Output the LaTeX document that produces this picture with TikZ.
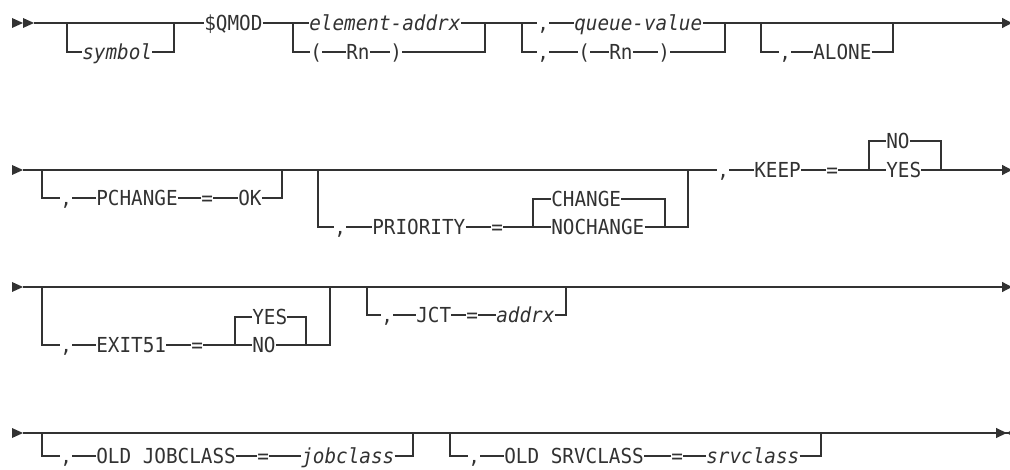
\documentclass[tikz,border=0pt]{standalone}
\usepackage{fontspec}
\newfontfamily\railfont[FakeStretch=0.935]{DejaVu Sans Mono}
\definecolor{railgray}{RGB}{50,50,50}
\usetikzlibrary{arrows.meta}

\begin{document}
\begin{tikzpicture}[x=0.75pt, y=-0.75pt,
    rail/.style={draw=railgray, line width=0.95pt},
    kw/.style={inner sep=0pt, anchor=west, text height=11.3pt, text depth=0pt, text=railgray,
      font=\railfont\fontsize{15.5}{18}\selectfont},
    var/.style={kw, font=\railfont\itshape\fontsize{15.5}{18}\selectfont},
    endtip/.style={-{Triangle[length=7.5pt, width=7.5pt]}}]
    \useasboundingbox (0,0) rectangle (1010,470);

    % row 1: symbol, $QMOD, element, queue, ALONE
    \fill[railgray] (12,18) -- (23,23) -- (12,28) -- cycle;
    \fill[railgray] (23,18) -- (34,23) -- (23,28) -- cycle;
    \coordinate (r1s) at (34,23);
    \coordinate (o1l) at (67,23);
    \coordinate (o1r) at (174,23);
    \node[var] (sym) at (82,52) {symbol};
    \node[kw] (qmod) at (204,23) {\$QMOD};
    \coordinate (c1l) at (293,23);
    \coordinate (c1r) at (485,23);
    \node[var] (elem) at (309,23) {element-addrx};
    \node[kw] (lp1) at (310,52) {(};
    \node[kw] (rn1) at (346,52) {Rn};
    \node[kw] (rp1) at (390,52) {)};
    \coordinate (c2l) at (522,23);
    \coordinate (c2r) at (725,23);
    \node[kw] (cm1) at (537,23) {,};
    \node[var] (qval) at (574,23) {queue-value};
    \node[kw] (cm2) at (537,52) {,};
    \node[kw] (lp2) at (578,52) {(};
    \node[kw] (rn2) at (609,52) {Rn};
    \node[kw] (rp2) at (658,52) {)};
    \coordinate (o2l) at (761,23);
    \coordinate (o2r) at (893,23);
    \node[kw] (cm3) at (779,52) {,};
    \node[kw] (alone) at (813,52) {ALONE};
    \coordinate (r1e) at (1012,23);

    \draw[rail] (r1s) -- (qmod);
    \draw[rail] (o1l) |- (sym.west);
    \draw[rail] (sym.east) -| (o1r);
    \draw[rail] (qmod) -- (elem);
    \draw[rail] (elem) -- (cm1);
    \draw[rail] (c1l) |- (lp1.west);
    \draw[rail] (lp1) -- (rn1) -- (rp1);
    \draw[rail] (rp1.east) -| (c1r);
    \draw[rail] (cm1) -- (qval);
    \draw[rail] (c2l) |- (cm2.west);
    \draw[rail] (cm2) -- (lp2) -- (rn2) -- (rp2);
    \draw[rail] (rp2.east) -| (c2r);
    \draw[rail] (o2l) |- (cm3.west);
    \draw[rail] (cm3) -- (alone);
    \draw[rail] (alone.east) -| (o2r);
    \draw[rail, endtip] (qval) -- (r1e);

    % row 2: PCHANGE, PRIORITY, KEEP
    \fill[railgray] (12,165) -- (23,170) -- (12,175) -- cycle;
    \coordinate (r2s) at (23,170);
    \coordinate (o3l) at (42,170);
    \coordinate (o3r) at (282,170);
    \node[kw] (cm4) at (60,198) {,};
    \node[kw] (pchg) at (96,198) {PCHANGE};
    \node[kw] (eq1) at (201,198) {=};
    \node[kw] (ok) at (238,198) {OK};
    \coordinate (o4l) at (318,170);
    \coordinate (o4r) at (688,170);
    \node[kw] (cm5) at (334,227) {,};
    \node[kw] (prio) at (372,227) {PRIORITY};
    \node[kw] (eq2) at (491,227) {=};
    \coordinate (ch1l) at (533,227);
    \coordinate (ch1r) at (665,227);
    \node[kw] (chg) at (551,199) {CHANGE};
    \node[kw] (nochg) at (551,227) {NOCHANGE};
    \node[kw] (cm6) at (717,170) {,};
    \node[kw] (keep) at (754,170) {KEEP};
    \node[kw] (eq3) at (826,170) {=};
    \coordinate (ch2l) at (869,170);
    \coordinate (ch2r) at (941,170);
    \node[kw] (no) at (886,141) {NO};
    \node[kw] (yes) at (886,170) {YES};
    \coordinate (r2e) at (1012,170);

    \draw[rail] (r2s) -- (cm6);
    \draw[rail] (o3l) |- (cm4.west);
    \draw[rail] (cm4) -- (pchg) -- (eq1) -- (ok);
    \draw[rail] (ok.east) -| (o3r);
    \draw[rail] (o4l) |- (cm5.west);
    \draw[rail] (cm5) -- (prio) -- (eq2) -- (nochg);
    \draw[rail] (nochg.east) -| (o4r);
    \draw[rail] (ch1l) |- (chg.west);
    \draw[rail] (chg.east) -| (ch1r);
    \draw[rail] (cm6) -- (keep) -- (eq3) -- (yes);
    \draw[rail] (ch2l) |- (no.west);
    \draw[rail] (no.east) -| (ch2r);
    \draw[rail, endtip] (yes) -- (r2e);

    % row 3: EXIT51, JCT
    \fill[railgray] (12,282) -- (23,287) -- (12,292) -- cycle;
    \coordinate (r3s) at (23,287);
    \coordinate (o5l) at (42,287);
    \coordinate (o5r) at (330,287);
    \node[kw] (cm7) at (60,345) {,};
    \node[kw] (exit) at (96,345) {EXIT51};
    \node[kw] (eq4) at (191,345) {=};
    \coordinate (ch3l) at (235,345);
    \coordinate (ch3r) at (306,345);
    \node[kw] (yes2) at (252,317) {YES};
    \node[kw] (no2) at (252,345) {NO};
    \coordinate (o6l) at (367,287);
    \coordinate (o6r) at (566,287);
    \node[kw] (cm8) at (381,315) {,};
    \node[kw] (jct) at (416,315) {JCT};
    \node[kw] (eq5) at (466,315) {=};
    \node[var] (addrx) at (496,315) {addrx};
    \coordinate (r3e) at (1012,287);

    \draw[rail, endtip] (r3s) -- (r3e);
    \draw[rail] (o5l) |- (cm7.west);
    \draw[rail] (cm7) -- (exit) -- (eq4) -- (no2);
    \draw[rail] (no2.east) -| (o5r);
    \draw[rail] (ch3l) |- (yes2.west);
    \draw[rail] (yes2.east) -| (ch3r);
    \draw[rail] (o6l) |- (cm8.west);
    \draw[rail] (cm8) -- (jct) -- (eq5) -- (addrx);
    \draw[rail] (addrx.east) -| (o6r);

    % row 4: OLD JOBCLASS, OLD SRVCLASS
    \fill[railgray] (12,428) -- (23,433) -- (12,438) -- cycle;
    \coordinate (r4s) at (23,433);
    \coordinate (o7l) at (42,433);
    \coordinate (o7r) at (413,433);
    \node[kw] (cm9) at (60,456) {,};
    \node[kw] (ojob) at (96,456) {OLD JOBCLASS};
    \node[kw] (eq6) at (257,456) {=};
    \node[var] (jobc) at (301,456) {jobclass};
    \coordinate (o8l) at (450,433);
    \coordinate (o8r) at (821,433);
    \node[kw] (cm10) at (468,456) {,};
    \node[kw] (osrv) at (504,456) {OLD SRVCLASS};
    \node[kw] (eq7) at (671,456) {=};
    \node[var] (srvc) at (706,456) {srvclass};
    \coordinate (r4e) at (1016,433);

    \draw[rail, -{Triangle[length=8pt, width=7.5pt] Triangle[reversed, length=7pt, width=7.5pt]}] (r4s) -- (r4e);
    \draw[rail] (o7l) |- (cm9.west);
    \draw[rail] (cm9) -- (ojob) -- (eq6) -- (jobc);
    \draw[rail] (jobc.east) -| (o7r);
    \draw[rail] (o8l) |- (cm10.west);
    \draw[rail] (cm10) -- (osrv) -- (eq7) -- (srvc);
    \draw[rail] (srvc.east) -| (o8r);
  \end{tikzpicture}
\end{document}
